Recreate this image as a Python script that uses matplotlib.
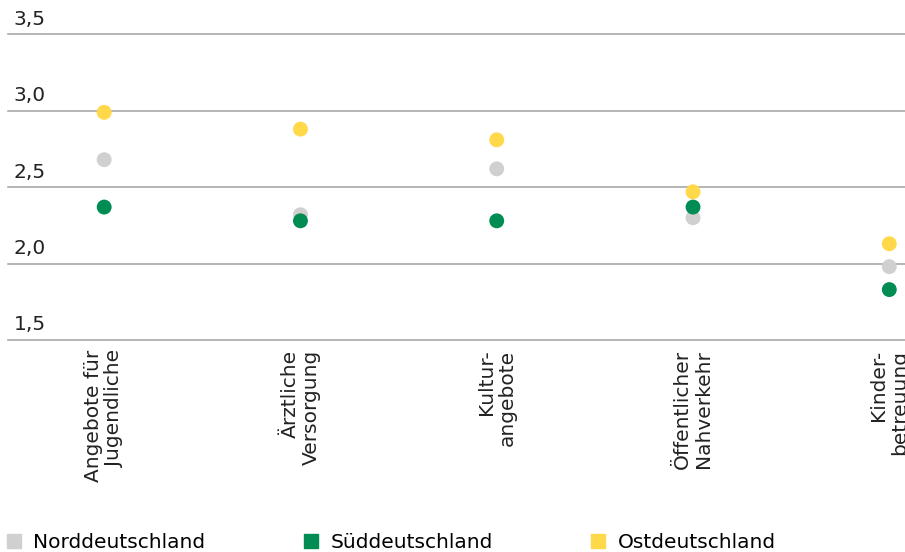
import numpy as np
import matplotlib
matplotlib.use("Agg")
import matplotlib.pyplot as plt
from matplotlib.lines import Line2D
from matplotlib.transforms import blended_transform_factory

# Daten
kategorien = ["Angebote für\nJugendliche", "Ärztliche\nVersorgung", "Kultur-\nangebote",
              "Öffentlicher\nNahverkehr", "Kinder-\nbetreuung"]
nord = [2.68, 2.32, 2.62, 2.30, 1.98]
sued = [2.37, 2.28, 2.28, 2.37, 1.83]
ost = [2.99, 2.88, 2.81, 2.47, 2.13]
serien = ["Norddeutschland", "Süddeutschland", "Ostdeutschland"]
farben = ["#d0d0d0", "#008c52", "#ffd94a"]
yticks = [1.5, 2.0, 2.5, 3.0, 3.5]
ytick_labels = ["1,5", "2,0", "2,5", "3,0", "3,5"]

FS = 14.5
plt.rcParams['font.family'] = ['DejaVu Sans']
plt.rcParams['font.size'] = FS

fig = plt.figure(figsize=(9.05, 5.52), dpi=100)
ax = fig.add_axes([8 / 905, 1 - 340 / 552, 897 / 905, (340 - 34.4) / 552])

x = np.arange(len(kategorien))
for werte, farbe in zip([nord, sued, ost], farben):
    ax.scatter(x, werte, s=115, color=farbe, edgecolors='none', zorder=3, clip_on=False)

ax.set_xlim(-0.49, 4.08)
ax.set_ylim(1.5, 3.5)
for s in ax.spines.values():
    s.set_visible(False)

# Gitterlinien + Beschriftung über der Linie
trans = blended_transform_factory(ax.transAxes, ax.transData)
for yt, lab in zip(yticks, ytick_labels):
    ax.axhline(yt, color="#a0a0a0", lw=1.1, zorder=1, clip_on=False)
    ax.annotate(lab, xy=(0, yt), xycoords=trans, xytext=(4, 4), textcoords='offset points',
                ha='left', va='bottom', fontsize=FS, color="#222222")
ax.set_yticks([])

ax.set_xticks(x)
ax.set_xticklabels(kategorien, rotation=90, ha='center', va='top',
                   multialignment='right', fontsize=FS, color="#222222",
                   linespacing=1.15)
ax.tick_params(axis='x', length=0, pad=7)

handles = [Line2D([], [], marker='s', ls='none', markersize=10.5, color=f) for f in farben]
fig.legend(handles, serien, loc='lower left', bbox_to_anchor=(0.0, -0.014), ncol=3,
           frameon=False, fontsize=FS, handlelength=0.55, handletextpad=0.7,
           columnspacing=4.95, borderaxespad=0.2, borderpad=0.2)

fig.savefig("out.png", dpi=100)
